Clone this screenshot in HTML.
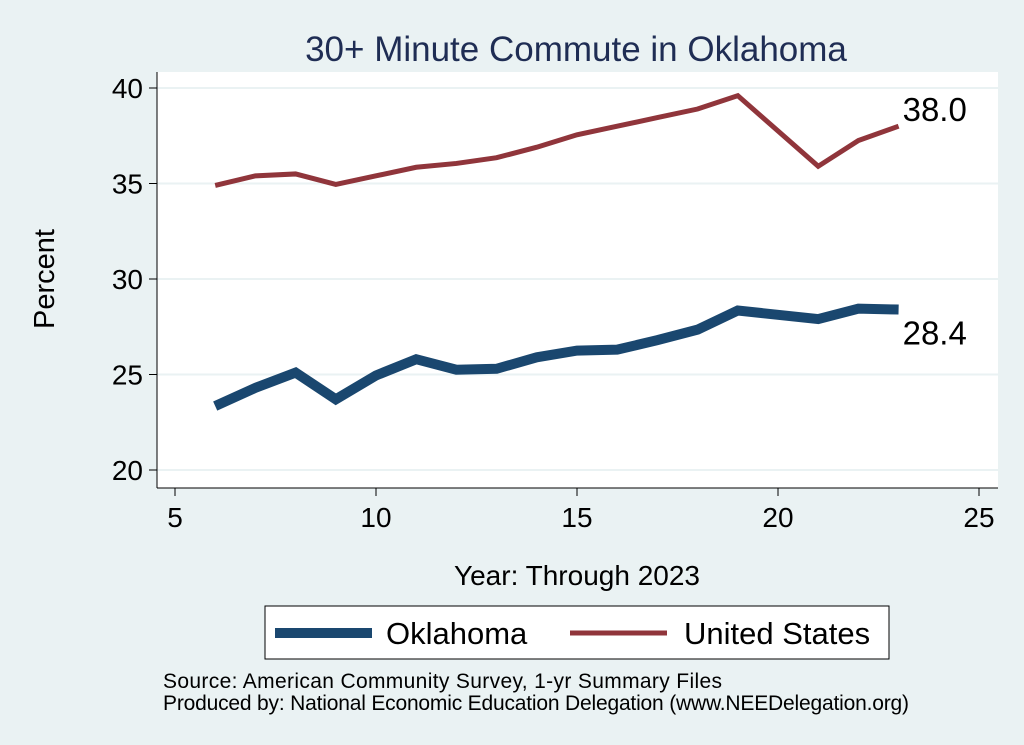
<!DOCTYPE html>
<html><head><meta charset="utf-8"><style>
body{margin:0;background:#eaf2f3;}
svg{display:block;font-family:"Liberation Sans",Arial,sans-serif;}
</style></head><body>
<svg id="chart" width="1024" height="745">
<rect width="1024" height="745" fill="#eaf2f3"/>
<rect x="157" y="72" width="841" height="416" fill="#ffffff"/>
<text x="576" y="61" text-anchor="middle" font-size="35" fill="#1f2d54">30+ Minute Commute in Oklahoma</text>
<g id="grid"></g><g id="axes"></g><g id="series"></g>
<text transform="translate(54,279) rotate(-90)" text-anchor="middle" font-size="29" fill="#000">Percent</text>
<text x="577" y="585" text-anchor="middle" font-size="28" fill="#000">Year: Through 2023</text>
<g>
<rect x="265" y="606" width="624" height="53" fill="#fff" stroke="#000" stroke-width="1"/>
<line x1="275" y1="633" x2="372" y2="633" stroke="#1a476f" stroke-width="10"/>
<text x="386" y="644" font-size="31">Oklahoma</text>
<line x1="570" y1="633" x2="667" y2="633" stroke="#90353b" stroke-width="5"/>
<text x="684" y="644" font-size="31">United States</text>
</g>
<text x="163" y="688" font-size="21" textLength="559">Source: American Community Survey, 1-yr Summary Files</text>
<text x="163" y="710" font-size="21" textLength="746">Produced by: National Economic Education Delegation (www.NEEDelegation.org)</text>
</svg>
<script>
const years=[6,7,8,9,10,11,12,13,14,15,16,17,18,19,21,22,23];
const usValues=[34.9,35.4,35.5,34.95,35.4,35.85,36.05,36.35,36.9,37.55,38.0,38.45,38.9,39.6,35.9,37.25,38.0];
const okValues=[23.35,24.3,25.1,23.7,24.95,25.8,25.25,25.3,25.9,26.25,26.3,26.8,27.35,28.35,27.9,28.45,28.4];
const xTicks=[5,10,15,20,25];
const yTicks=[20,25,30,35,40];
const NS="http://www.w3.org/2000/svg";
const xs=v=>175+(v-5)*40.2;
const ys=v=>470-(v-20)*19.1;
function mk(t,a,p){const e=document.createElementNS(NS,t);for(const k in a)e.setAttribute(k,a[k]);p.appendChild(e);return e;}
const grid=document.getElementById('grid'),axes=document.getElementById('axes'),ser=document.getElementById('series');
mk('line',{x1:157,y1:72,x2:157,y2:488,stroke:'#000','stroke-width':1},axes);
mk('line',{x1:157,y1:488,x2:998,y2:488,stroke:'#000','stroke-width':1},axes);
yTicks.forEach(v=>{
 const g=mk('line',{x1:157,x2:998,y1:ys(v),y2:ys(v),stroke:'#eaf2f3','stroke-width':2},grid);
 
 mk('line',{x1:149,x2:157,y1:ys(v),y2:ys(v),stroke:'#000'},axes);
 const t=mk('text',{x:143,y:ys(v)+10,'text-anchor':'end','font-size':28},axes);t.textContent=v;
 
});
xTicks.forEach(v=>{
 mk('line',{x1:xs(v),x2:xs(v),y1:488,y2:496,stroke:'#000'},axes);
 const t=mk('text',{x:xs(v),y:527,'text-anchor':'middle','font-size':28},axes);t.textContent=v;
 
});
function line(vals,color,w,name){
 const p=mk('polyline',{points:years.map((y,i)=>xs(y)+','+ys(vals[i])).join(' '),fill:'none',stroke:color,'stroke-width':w,'stroke-linejoin':'miter'},ser);
 
}
line(okValues,'#1a476f',10,'oklahoma-line');
line(usValues,'#90353b',5,'us-line');
const n=years.length-1;
const l1=mk('text',{x:xs(years[n])+4,y:ys(usValues[n])-5,'font-size':33},ser);l1.textContent=usValues[n].toFixed(1);

const l2=mk('text',{x:xs(years[n])+4,y:ys(okValues[n])+35,'font-size':33},ser);l2.textContent=okValues[n].toFixed(1);

</script>
</body></html>
